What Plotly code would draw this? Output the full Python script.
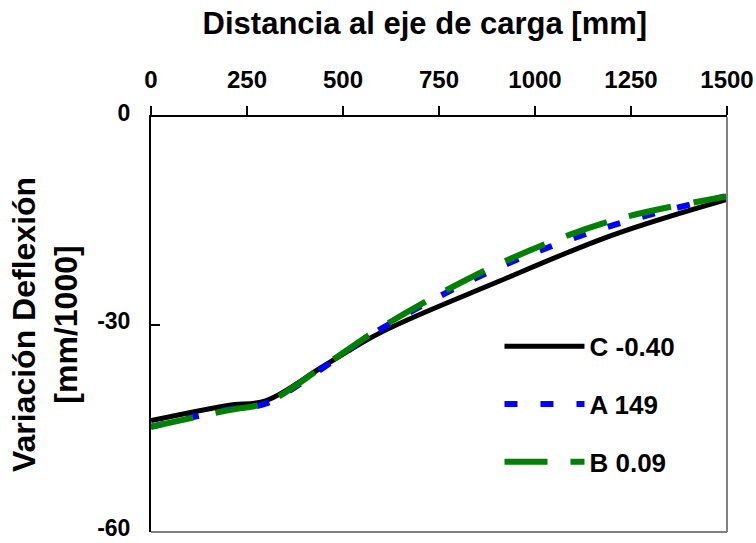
import plotly.graph_objects as go

# Distance from load axis [mm]
distance = [0, 200, 300, 450, 600, 900, 1200, 1500]

# Deflection variation [mm/1000]
serie_c = [-43.9, -41.7, -41.0, -36.0, -31.1, -23.9, -17.1, -11.9]
serie_a = [-44.8, -42.3, -41.4, -36.2, -30.6, -21.9, -15.7, -11.4]
serie_b = [-44.8, -42.4, -41.3, -36.0, -30.4, -21.4, -15.0, -11.5]

names = ["C -0.40", "A 149", "B 0.09"]
x_ticks = [0, 250, 500, 750, 1000, 1250, 1500]
y_ticks = [-60, -30, 0]
y_tick_labels = ["-60", "-30", "0"]

FONT = "Arial, Liberation Sans, sans-serif"

fig = go.Figure()
fig.add_trace(go.Scatter(x=distance, y=serie_c, name=names[0], mode="lines",
                         line=dict(color="black", width=5, shape="spline", smoothing=1.0),
                         legendgroup="c"))
fig.add_trace(go.Scatter(x=distance, y=serie_a, name=names[1], mode="lines",
                         line=dict(color="#0000ff", width=6, dash="13px,23px", shape="spline", smoothing=1.0),
                         legendgroup="a"))
fig.add_trace(go.Scatter(x=distance, y=serie_b, name=names[2], mode="lines",
                         line=dict(color="#008000", width=6, dash="43px,23px", shape="spline", smoothing=1.0),
                         legendgroup="b"))

fig.update_layout(
    width=756, height=543,
    margin=dict(l=151, r=29, t=117, b=11, autoexpand=False),
    paper_bgcolor="white", plot_bgcolor="white",
    font=dict(family=FONT, color="black", size=22, weight="bold"),
    title=dict(text="Distancia al eje de carga [mm]",
               font=dict(family=FONT, size=31, weight="bold"),
               x=0.562, xanchor="center", xref="container",
               y=0.958, yanchor="middle", yref="container"),
    showlegend=True,
    legend=dict(x=0.605, y=0.504, xanchor="left", yanchor="top",
                font=dict(family=FONT, size=26, weight="bold"),
                itemwidth=80, tracegroupgap=21, bgcolor="rgba(0,0,0,0)"),
    xaxis=dict(side="top", range=[0, 1500], tickvals=x_ticks,
               ticks="outside", ticklen=9, tickwidth=2, tickcolor="black",
               showline=True, linecolor="black", linewidth=2,
               showgrid=False, zeroline=False, automargin=False,
               tickfont=dict(family=FONT, size=24, weight="bold"),
               ticklabelstandoff=8, ticklabeloverflow="allow"),
    yaxis=dict(range=[-60, 0], tickvals=y_ticks, ticktext=y_tick_labels,
               ticks="inside", ticklen=9, tickwidth=2, tickcolor="black",
               showline=True, linecolor="black", linewidth=2,
               showgrid=False, zeroline=False, automargin=False,
               tickfont=dict(family=FONT, size=23, weight="bold"),
               ticklabelstandoff=14, ticklabelshift=-4, ticklabeloverflow="allow",
               title=dict(text="Variación Deflexión<br>[mm/1000]",
                          font=dict(family=FONT, size=32, weight="bold"), standoff=10)),
    shapes=[
        dict(type="line", xref="paper", yref="paper", x0=1, x1=1, y0=0, y1=1,
             line=dict(color="#808080", width=2)),
        dict(type="line", xref="paper", yref="paper", x0=0, x1=1, y0=0, y1=0,
             line=dict(color="#808080", width=2)),
    ],
)

fig.write_html("out.html")
